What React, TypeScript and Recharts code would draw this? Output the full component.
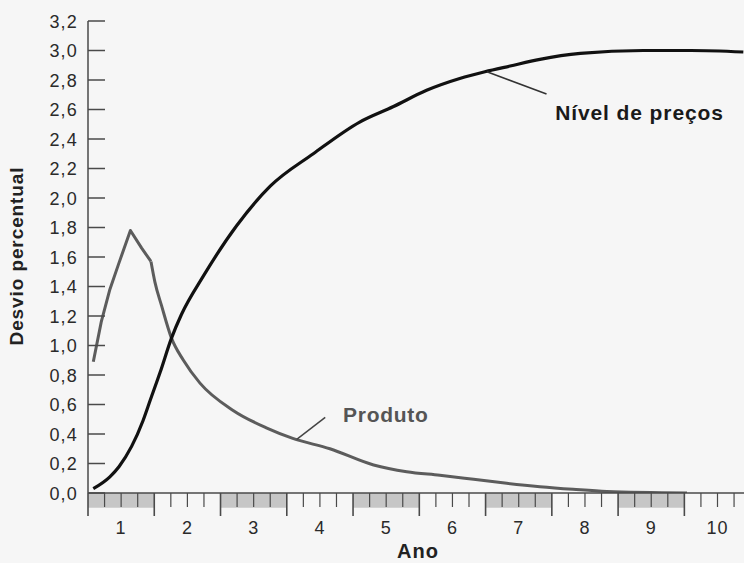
import React from "react";
import {
  LineChart,
  Line,
  XAxis,
  YAxis,
  ReferenceArea,
  ReferenceLine,
  ReferenceDot,
} from "recharts";

// Nível de preços (curva preta)
const anosPrecos = [0.58, 0.83, 0.97, 1.33, 1.44, 1.59, 1.76, 1.91, 2.24, 2.74, 3.25, 3.9, 4.6, 5.11, 5.61, 6.11, 6.49, 6.87, 7.32, 7.93, 8.88, 9.6, 10.39];
const valoresPrecos = [0.03, 0.11, 0.18, 0.49, 0.63, 0.82, 1.05, 1.21, 1.47, 1.81, 2.08, 2.3, 2.515, 2.62, 2.73, 2.81, 2.856, 2.895, 2.94, 2.98, 3.0, 3.0, 2.99];

// Produto: subida até o pico (segmentos retos) e depois a queda suave
const anosProdutoSubida = [0.58, 0.7, 0.83, 0.96, 1.14, 1.31, 1.45];
const valoresProdutoSubida = [0.89, 1.16, 1.38, 1.55, 1.78, 1.66, 1.57];
const anosProdutoQueda = [1.45, 1.51, 1.61, 1.76, 1.94, 2.19, 2.69, 3.2, 3.59, 4.15, 4.81, 5.31, 5.81, 6.32, 6.82, 7.32, 7.82, 8.33, 9.54];
const valoresProdutoQueda = [1.57, 1.43, 1.27, 1.05, 0.9, 0.745, 0.56, 0.44, 0.37, 0.3, 0.19, 0.144, 0.12, 0.093, 0.066, 0.043, 0.025, 0.01, 0.0];

const rotulosAno = [1, 2, 3, 4, 5, 6, 7, 8, 9, 10];
const ticksY = [0, 0.2, 0.4, 0.6, 0.8, 1.0, 1.2, 1.4, 1.6, 1.8, 2.0, 2.2, 2.4, 2.6, 2.8, 3.0, 3.2];
const faixasInicio = [0.5, 2.5, 4.5, 6.5, 8.5];

// trimestres: 0.5, 0.75, ... 10.25
const ticksX = Array.from({ length: 40 }, (_, i) => 0.5 + i * 0.25);

const precos = anosPrecos.map((t, i) => ({ t, v: valoresPrecos[i] }));
const produtoSubida = anosProdutoSubida.map((t, i) => ({ t, v: valoresProdutoSubida[i] }));
const produtoQueda = anosProdutoQueda.map((t, i) => ({ t, v: valoresProdutoQueda[i] }));

const FONT = '"Liberation Sans", Arial, Helvetica, sans-serif';

function TickX(props: any) {
  const { x, y, payload } = props;
  const v = payload.value as number;
  const meio = Math.abs(v - Math.floor(v) - 0.5) < 1e-6;
  const inteiro = rotulosAno.includes(v);
  return (
    <g>
      <line
        x1={x}
        x2={x}
        y1={y}
        y2={y + (meio ? 23 : 14)}
        stroke="#4a4a4a"
        strokeWidth={meio ? 1.6 : 1.2}
      />
      {inteiro && (
        <text
          x={x}
          y={y + 41}
          textAnchor="middle"
          fontFamily={FONT}
          fontSize={18}
          letterSpacing={1}
          fill="#2a2a2a"
        >
          {v}
        </text>
      )}
    </g>
  );
}

function TickY(props: any) {
  const { x, y, payload } = props;
  const v = payload.value as number;
  return (
    <g>
      <line x1={x} x2={x + 17} y1={y} y2={y} stroke="#4a4a4a" strokeWidth={1.5} />
      <text
        x={x - 10}
        y={y}
        dy={6.5}
        textAnchor="end"
        fontFamily={FONT}
        fontSize={18}
        letterSpacing={1.2}
        fill="#2a2a2a"
      >
        {v.toFixed(1).replace(".", ",")}
      </text>
    </g>
  );
}

function RotuloAno() {
  return (
    <text x={418} y={558} textAnchor="middle" fontFamily={FONT} fontSize={20} fontWeight="bold" letterSpacing={1} fill="#222">
      Ano
    </text>
  );
}

function RotuloDesvio() {
  return (
    <text
      transform="translate(23,256) rotate(-90)"
      textAnchor="middle"
      fontFamily={FONT}
      fontSize={19}
      fontWeight="bold"
      letterSpacing={0.9}
      fill="#222"
    >
      Desvio percentual
    </text>
  );
}

export default function App() {
  return (
    <div style={{ position: "absolute", left: 0, top: 0, width: 744, height: 563, background: "#f6f6f6" }}>
      <LineChart width={744} height={563} margin={{ top: 21, right: 0, bottom: 0, left: 0 }}>
        {faixasInicio.map((a) => (
          <ReferenceArea
            key={a}
            x1={a}
            x2={a + 1}
            y1={-0.1}
            y2={0}
            ifOverflow="visible"
            fill="#c6c6c6"
            fillOpacity={1}
            stroke="none"
          />
        ))}
        <XAxis
          type="number"
          dataKey="t"
          domain={[0.5, 10.4]}
          allowDataOverflow
          ticks={ticksX}
          interval={0}
          height={70}
          tickSize={0}
          tickMargin={0}
          tickLine={false}
          tick={<TickX />}
          axisLine={{ stroke: "#4a4a4a", strokeWidth: 1.6 }}
          label={<RotuloAno />}
        />
        <YAxis
          type="number"
          domain={[0, 3.2]}
          allowDataOverflow
          ticks={ticksY}
          interval={0}
          width={88}
          tickSize={0}
          tickMargin={0}
          tickLine={false}
          tick={<TickY />}
          axisLine={{ stroke: "#555", strokeWidth: 1.6 }}
          label={<RotuloDesvio />}
        />
        <Line
          data={produtoSubida}
          dataKey="v"
          type="linear"
          stroke="#5c5c5c"
          strokeWidth={3}
          strokeLinejoin="round"
          dot={false}
          activeDot={false}
          isAnimationActive={false}
        />
        <Line
          data={produtoQueda}
          dataKey="v"
          type="monotone"
          stroke="#5c5c5c"
          strokeWidth={3}
          dot={false}
          activeDot={false}
          isAnimationActive={false}
        />
        <Line
          data={precos}
          dataKey="v"
          type="monotone"
          stroke="#111"
          strokeWidth={3.2}
          dot={false}
          activeDot={false}
          isAnimationActive={false}
        />
        <ReferenceLine
          segment={[{ x: 6.52, y: 2.856 }, { x: 7.42, y: 2.705 }]}
          stroke="#333"
          strokeWidth={1.5}
          ifOverflow="visible"
        />
        <ReferenceLine
          segment={[{ x: 3.65, y: 0.364 }, { x: 4.08, y: 0.513 }]}
          stroke="#444"
          strokeWidth={1.5}
          ifOverflow="visible"
        />
        <ReferenceDot
          x={7.55}
          y={2.58}
          r={0}
          ifOverflow="visible"
          shape={(p: any) => (
            <text x={p.cx} y={p.cy} dy={7.5} fontFamily={FONT} fontSize={21} fontWeight="bold" letterSpacing={0.9} fill="#1a1a1a">
              Nível de preços
            </text>
          )}
        />
        <ReferenceDot
          x={4.35}
          y={0.535}
          r={0}
          ifOverflow="visible"
          shape={(p: any) => (
            <text x={p.cx} y={p.cy} dy={7.5} fontFamily={FONT} fontSize={21} fontWeight="bold" letterSpacing={0.7} fill="#555">
              Produto
            </text>
          )}
        />
      </LineChart>
    </div>
  );
}
